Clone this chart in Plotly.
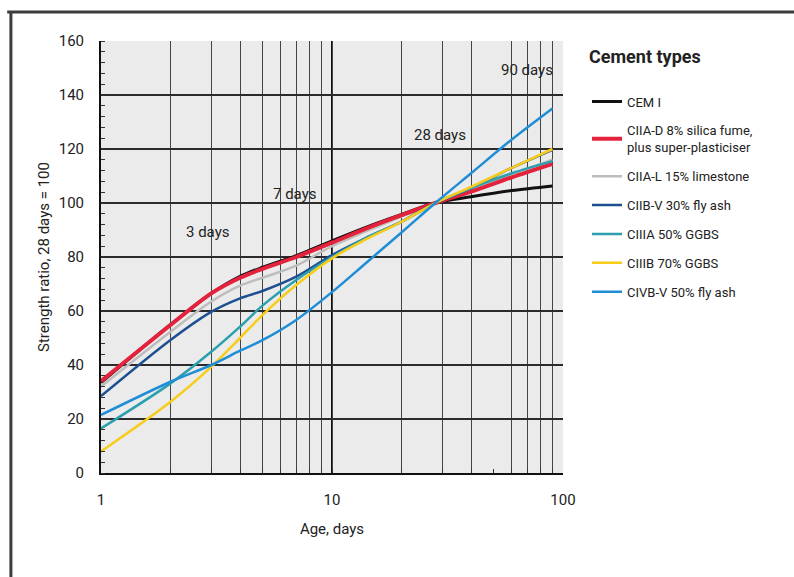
import math
import plotly.graph_objects as go

# ---- data ----
days = [1, 2, 3, 4, 5, 7, 10, 14, 20, 28, 40, 60, 90]

cem_i   = [33.5, 55.0, 66.5, 72.8, 76.2, 80.5, 86.0, 91.0, 95.8, 100, 102.3, 104.6, 106.3]
ciia_d  = [34.0, 54.8, 66.5, 72.3, 75.6, 80.0, 85.3, 90.5, 95.5, 100, 104.2, 109.5, 114.5]
ciia_l  = [32.0, 52.3, 63.5, 69.4, 72.3, 76.8, 84.0, 89.5, 95.0, 100, 104.5, 110.5, 116.0]
ciib_v  = [28.5, 49.3, 59.7, 64.7, 67.4, 72.7, 80.7, 87.0, 93.1, 100, 105.5, 113.0, 119.7]
ciiia   = [16.5, 33.2, 44.9, 54.2, 62.0, 71.5, 80.0, 87.0, 93.0, 100, 105.5, 111.0, 115.5]
ciiib   = [8.0, 26.4, 39.3, 50.0, 58.5, 69.6, 79.5, 86.5, 93.0, 100, 106.0, 113.0, 120.0]
civb_v  = [21.5, 33.8, 40.0, 45.3, 49.2, 56.7, 67.0, 77.7, 89.1, 100, 111.0, 123.5, 135.0]

series_names = [
    "CEM I",
    "CIIA-D 8% silica fume,<br>plus super-plasticiser",
    "CIIA-L 15% limestone",
    "CIIB-V 30% fly ash",
    "CIIIA 50% GGBS",
    "CIIIB 70% GGBS",
    "CIVB-V 50% fly ash",
]
series_values = [cem_i, ciia_d, ciia_l, ciib_v, ciiia, ciiib, civb_v]
series_colors = ["#111111", "#e4223c", "#bdbdbd", "#1d4f91", "#2b9fae", "#f7cc1a", "#1f8ed6"]
series_widths = [3, 4, 2.5, 2.5, 2.5, 2.5, 2.5]
draw_order = [0, 2, 1, 3, 4, 5, 6]

age_labels = [(2.9, 89.3, "3 days", "center"), (6.9, 103.5, "7 days", "center"),
              (29.3, 125.2, "28 days", "center"), (92, 149.3, "90 days", "right")]

x_grid_vals = [1, 2, 3, 4, 5, 6, 7, 8, 9, 10, 20, 30, 40, 60, 70, 80, 90, 100]
x_tick_text = ["1" if v == 1 else "10" if v == 10 else "100" if v == 100 else "" for v in x_grid_vals]

FONT = "Roboto"
fig = go.Figure()
for i in draw_order:
    fig.add_trace(go.Scatter(
        x=days, y=series_values[i], mode="lines", name=series_names[i],
        line=dict(color=series_colors[i], width=series_widths[i], shape="spline", smoothing=0.9),
        legendrank=i + 1, legendgroup=str(i),
    ))

for x, y, t, al in age_labels:
    fig.add_annotation(x=math.log10(x), y=y, text=t, showarrow=False,
                       xanchor=al, yanchor="middle",
                       font=dict(family=FONT, size=15, color="#222"))

# decade line at 10 days
fig.add_shape(type="line", xref="x", yref="paper", x0=10, x1=10, y0=0, y1=1,
              line=dict(color="#111", width=2), layer="between")
# outer frame
fig.add_shape(type="line", xref="paper", yref="paper", x0=-0.203, x1=1.52, y0=1.067, y1=1.067,
              line=dict(color="#3c3c3c", width=3))
fig.add_shape(type="line", xref="paper", yref="paper", x0=-0.195, x1=-0.195, y0=-0.25, y1=1.067,
              line=dict(color="#3c3c3c", width=3))

fig.update_layout(
    width=794, height=577,
    margin=dict(l=101, r=231, t=41, b=104),
    paper_bgcolor="white", plot_bgcolor="#ebebeb",
    font=dict(family=FONT, size=13, color="#222"),
    showlegend=True,
    legend=dict(
        x=1.052, y=1.003, xanchor="left", yanchor="top",
        title=dict(text="<b>Cement types</b><br> ", font=dict(family=FONT, size=18, color="#222")),
        font=dict(family=FONT, size=13, color="#222"),
        tracegroupgap=9, itemwidth=30, bgcolor="rgba(0,0,0,0)",
    ),
    xaxis=dict(
        type="log", range=[0, 2],
        tickmode="array", tickvals=x_grid_vals, ticktext=x_tick_text,
        ticks="inside", ticklen=4, tickcolor="#333",
        showgrid=True, gridcolor="#444", gridwidth=1.2,
        showline=True, linecolor="#111", linewidth=2,
        minor=dict(tickmode="array", tickvals=[50], ticks="inside", ticklen=4, tickcolor="#333", showgrid=False),
        ticklabelstandoff=12,
        title=dict(text="Age, days", font=dict(size=15), standoff=15),
        tickfont=dict(size=15), zeroline=False,
    ),
    yaxis=dict(
        range=[0, 160], tickmode="array", tickvals=[0, 20, 40, 60, 80, 100, 120, 140, 160],
        ticks="", showgrid=True, gridcolor="#2b2b2b", gridwidth=1.5,
        showline=True, linecolor="#111", linewidth=2,
        minor=dict(dtick=4, ticks="inside", ticklen=4, tickcolor="#333", showgrid=False),
        ticklabelstandoff=12,
        title=dict(text="Strength ratio, 28 days = 100", font=dict(size=15), standoff=5),
        tickfont=dict(size=15), zeroline=False,
    ),
)

fig.write_html("out.html", config={"displayModeBar": False},
               post_script="document.body.style.margin='0';")
